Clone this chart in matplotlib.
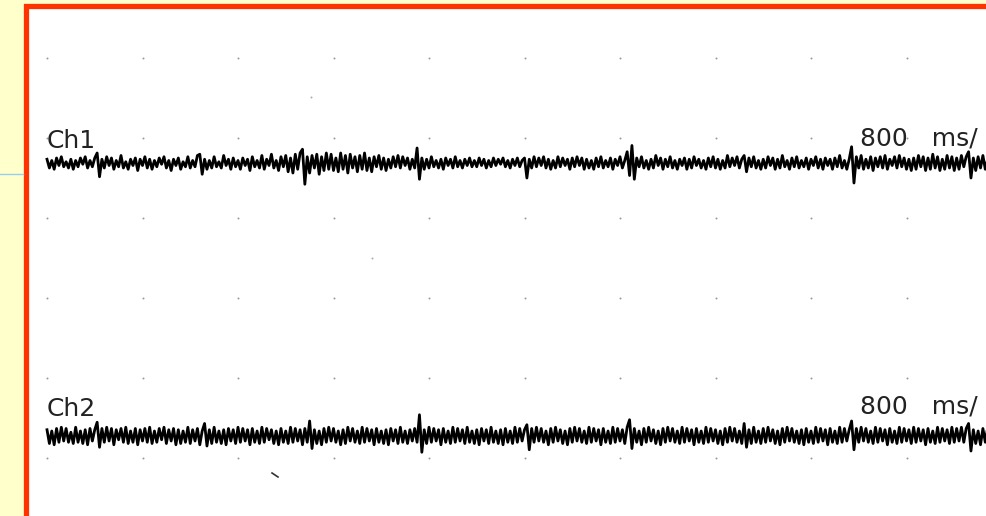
import numpy as np
import matplotlib.pyplot as plt
from matplotlib.patches import Rectangle

# two channel traces, one sample every 20 ms, amplitude in screen units (up = +)
ch1 = [3, -4, 2, -5, 4, -2, 5, -3, 1, -4, 3, -5, 2, -3, 4, -1, 5, -4, 2, -3,
       4, 8, -11, 3, -4, 5, -2, 4, -5, 2, -3, 6, -4, 1, -5, 3, -2, 4, -6, 3,
       -2, 5, -4, 3, -5, 2, -3, 4, -1, 5, -4, 2, -6, 3, -2, 4, -5, 1, -3, 5,
       -4, 2, -3, 6, 7, -9, 3, -5, 2, -4, 5, -3, 1, -4, 6, -2, 3, -5, 4, -3,
       2, -5, 4, -2, 3, -6, 5, -3, 2, -4, 6, -5, 3, -2, 7, -4, 2, -6, 5, -3,
       6, -7, 4, -8, 7, -5, 8, 11, -17, 5, -8, 6, -4, 7, -9, 5, -6, 8, -5, 7,
       -6, 4, -7, 8, -5, 6, -8, 7, -4, 5, -7, 6, -5, 8, -6, 4, -7, 5, -3, 6,
       -5, 4, -6, 3, -4, 5, -3, 6, -4, 5, -2, 4, -5, 3, -4, 12, -13, 4, -5, 3,
       -4, 5, -3, 2, -4, 3, -5, 4, -2, 3, -4, 5, -3, 2, -4, 3, -2, 4, -3, 2,
       -3, 4, -2, 3, -4, 2, -3, 4, -2, 3, -1, 4, -3, 2, -4, 3, -2, 4, -3, 2,
       4, -12, 3, -4, 5, -3, 4, -2, 5, -4, 3, -5, 2, -4, 5, -3, 4, -2, 3, -5,
       4, -3, 5, -2, 4, -5, 3, -4, 2, -5, 4, -3, 5, -4, 2, -3, 4, -5, 3, -2,
       5, -4, 2, 9, -10, 14, -13, 4, -3, 5, -4, 2, -5, 3, -4, 6, -2, 4, -5, 3,
       -3, 5, -4, 2, -5, 3, -2, 4, -5, 3, -4, 5, -2, 3, -4, 2, -5, 4, -3, 5,
       -4, 3, -5, 2, -4, 6, -3, 4, -2, 5, -4, 3, 6, -7, 4, -3, 5, -4, 2, -5,
       3, -4, 5, -2, 4, -5, 3, -4, 6, -3, 2, -5, 4, -3, 5, -4, 2, -3, 4, -5,
       3, -2, 5, -4, 3, -5, 4, -2, 3, -5, 4, -3, 6, -4, 2, -5, 3, 13, -16, 5,
       -4, 6, -5, 3, -4, 5, -6, 4, -3, 5, -4, 6, -5, 3, -2, 5, -4, 6, -3, 4,
       -5, 3, -6, 4, -5, 6, -3, 5, -6, 4, -5, 7, -4, 5, -6, 3, -5, 6, -4, 5,
       -6, 4, -5, 6, -3, 5, 9, -12, 4, -6, 5, -4, 6, -5, 3, -4, 5, -6, 4, -3]
ch2 = [5, -6, 4, -7, 6, -5, 7, -4, 6, -5, 3, -6, 7, -5, 4, -6, 5, -7, 6, -4,
       5, 11, -9, 6, -5, 7, -4, 6, -7, 5, -3, 6, -5, 7, -6, 4, -5, 6, -7, 5,
       -4, 6, -5, 7, -6, 4, -5, 6, -3, 7, -6, 5, -4, 6, -7, 5, -6, 4, -5, 7,
       -6, 5, -4, 6, -7, 4, 10, -8, 5, -6, 7, -5, 4, -6, 5, -7, 6, -4, 5, -6,
       7, -5, 6, -4, 5, -7, 6, -5, 4, -6, 7, -5, 6, -3, 5, -6, 4, -7, 6, -5,
       4, -6, 7, -5, 6, -4, 5, -7, 6, -5, 12, -10, 5, -6, 4, -7, 6, -5, 7, -4,
       6, -5, 4, -7, 5, -6, 7, -4, 6, -5, 4, -6, 7, -5, 6, -4, 5, -7, 6, -5,
       4, -6, 5, -7, 6, -4, 5, -6, 7, -5, 4, -6, 5, -4, 6, -5, 17, -13, 5, -6,
       7, -5, 6, -4, 5, -7, 6, -5, 4, -6, 7, -5, 6, -4, 5, -6, 7, -5, 4, -6,
       5, -7, 6, -4, 5, -6, 7, -5, 4, -6, 5, -7, 6, -5, 4, -6, 7, -5, 6, -4,
       5, 9, -11, 6, -5, 7, -4, 6, -5, 4, -7, 6, -5, 7, -4, 5, -6, 4, -7, 6,
       -5, 7, -4, 6, -5, 4, -6, 7, -5, 6, -4, 5, -7, 6, -5, 4, -6, 7, -5, 6,
       -4, 5, -6, 7, 13, -10, 6, -5, 4, -7, 6, -5, 7, -4, 5, -6, 4, -7, 6, -5,
       7, -4, 6, -5, 4, -6, 7, -5, 6, -4, 5, -7, 6, -5, 4, -6, 7, -5, 6, -4,
       5, -6, 4, -7, 6, -5, 7, -4, 6, -5, 4, -6, 10, -9, 5, -6, 7, -5, 4, -6,
       6, -5, 7, -4, 5, -6, 4, -7, 6, -5, 7, -4, 6, -5, 4, -6, 5, -7, 6, -5,
       4, -6, 7, -5, 6, -4, 5, -7, 6, -5, 4, -6, 7, -5, 6, -4, 5, 12, -11, 6,
       -5, 7, -4, 6, -5, 4, -6, 7, -5, 6, -4, 5, -7, 6, -5, 4, -6, 7, -5, 6,
       -4, 5, -6, 7, -5, 6, -4, 5, -7, 6, -5, 4, -6, 7, -5, 6, -4, 5, -6, 7,
       -5, 6, -4, 7, -5, 6, 10, -12, 5, -6, 4, -7, 6, -5, 7, -4, 5, -6, 4, -7]
labels = ['Ch1', 'Ch2']
sweep = '800   ms/'
dt = 20          # ms per sample
div_ms = 800     # ms per grid division
gain = 1.25

fig = plt.figure(figsize=(9.86, 5.16), dpi=100, facecolor='#ffffcc')
ax = fig.add_axes([0, 0, 1, 1])
ax.set_facecolor('none')
ax.axis('off')
ms_px = div_ms / 95.5
ax.set_xlim(-47 * ms_px, (986 - 47) * ms_px)
ax.set_ylim(516, 0)

# paper frame
ax.add_patch(Rectangle((25.5 / 986, -0.1), 1.2, 1.1 - 5.5 / 516, transform=ax.transAxes,
                       facecolor='white', edgecolor='#ff3300', lw=3.8, zorder=0, clip_on=False))
ax.plot([0, 23 / 986], [1 - 174 / 516] * 2, transform=ax.transAxes, color='#99ccee', lw=1, zorder=1)

# dotted grid
gx = np.arange(10) * div_ms
gy = 58 + 80 * np.arange(6)
X, Y = np.meshgrid(gx, gy)
ax.scatter(X.ravel(), Y.ravel(), s=2, color='#999999', lw=0, zorder=2)
ax.scatter([2212, 2723], [97, 258], s=2, color='#aaaaaa', lw=0, zorder=2)
ax.plot([1885, 1935], [473, 477], color='#333333', lw=1.2, zorder=2)

bases = [163, 436]
for vals, base, lab, ty in zip([ch1, ch2], bases, labels, [148, 416]):
    t = np.arange(len(vals)) * dt
    ax.plot(t, base - gain * np.array(vals), color='black', lw=2.0, zorder=3)
    ax.text(0, ty, lab, fontsize=18, color='#222222', ha='left', va='baseline')
    ax.text(813 * ms_px, ty - 3, sweep, fontsize=18, color='#222222', ha='left', va='baseline')

plt.savefig('out.png', dpi=100, facecolor=fig.get_facecolor())
